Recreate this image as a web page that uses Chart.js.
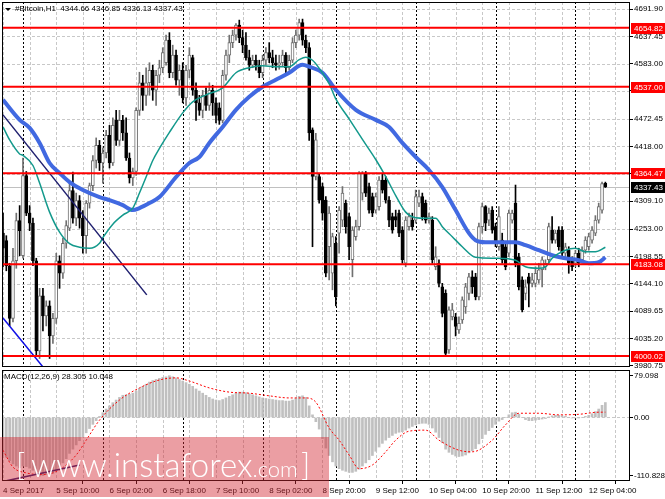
<!DOCTYPE html>
<html>
<head>
<meta charset="utf-8">
<script src="https://cdn.jsdelivr.net/npm/chart.js@4.4.1/dist/chart.umd.min.js"></script>
<style>
  html, body { margin: 0; padding: 0; background: #fff; }
  #wrap { position: relative; width: 665px; height: 499px; overflow: hidden; background: #fff; }
  canvas { position: absolute; left: 0; }
  #wm { position: absolute; left: 0; top: 437px; width: 329px; height: 60px; background: rgba(210, 40, 50, 0.45); pointer-events: none; }
  .wmt { position: absolute; color: #fff; font-family: Lato, "Open Sans", sans-serif; font-weight: 300; line-height: 1; white-space: nowrap; pointer-events: none; }
</style>
</head>
<body>
<div id="wrap">
  <canvas id="main" width="665" height="372" style="top:0"></canvas>
  <canvas id="macd" width="665" height="133" style="top:366px"></canvas>
  <div id="wm"></div>
  <div class="wmt" style="left:16px;top:449px;font-size:31px">[</div>
  <div class="wmt" style="left:31px;top:448px;display:flex;align-items:baseline"><span style="font-size:33px">www.instaforex</span><span style="font-size:22px">.com</span></div>
  <div class="wmt" style="left:301px;top:449px;font-size:31px">]</div>
</div>
<script>
// #Bitcoin H1, 4 Sep 2017 18:00 .. 12 Sep 2017 09:00 (bar index 0..181)
const opens = [
  4245,4230,4180,4075,4190,4270,4200,4360,4285,4265,
  4190,4010,4120,4080,4100,4040,4075,4190,4165,4225,
  4255,4330,4275,4310,4275,4240,4305,4340,4390,4420,
  4385,4405,4440,4385,4470,4430,4470,4445,4395,4355,
  4368,4490,4545,4520,4545,4570,4530,4560,4575,4585,
  4630,4565,4600,4550,4570,4515,4570,4595,4530,4505,
  4490,4520,4500,4530,4505,4495,4470,4560,4600,4625,
  4640,4660,4635,4620,4595,4580,4590,4580,4565,4590,
  4605,4595,4585,4580,4585,4600,4575,4590,4625,4640,
  4665,4630,4615,4451,4358,4358,4338,4311,4218,4165,
  4225,4245,4271,4305,4278,4192,4238,4258,4325,4364,
  4338,4318,4291,4298,4351,4351,4311,4278,4278,4285,
  4251,4185,4258,4271,4271,4305,4318,4305,4271,4271,
  4178,4185,4138,4125,4012,4078,4078,4052,4072,4098,
  4125,4158,4158,4118,4258,4298,4271,4291,4258,4218,
  4231,4218,4205,4271,4305,4198,4152,4125,4158,4145,
  4145,4152,4172,4178,4192,4251,4231,4251,4251,4205,
  4211,4192,4185,4205,4192,4211,4218,4231,4245,4271,
  4291,4344.66
];
const highs = [
  4285,4240,4185,4215,4285,4300,4395,4368,4300,4275,
  4195,4135,4135,4110,4110,4085,4205,4200,4235,4270,
  4345,4367,4325,4320,4290,4310,4345,4400,4435,4430,
  4415,4450,4460,4475,4490,4490,4480,4475,4405,4375,
  4495,4566,4560,4575,4585,4580,4570,4590,4615,4640,
  4645,4620,4610,4580,4585,4580,4615,4600,4545,4520,
  4530,4535,4545,4540,4515,4505,4570,4610,4640,4650,
  4663,4670,4650,4645,4610,4600,4600,4590,4600,4615,
  4625,4610,4600,4600,4610,4605,4600,4635,4650,4672,
  4672,4640,4625,4455,4444,4364,4345,4318,4298,4245,
  4238,4298,4338,4311,4285,4258,4271,4368,4368,4368,
  4345,4325,4325,4358,4364,4358,4318,4285,4291,4291,
  4258,4278,4285,4285,4331,4331,4325,4311,4285,4278,
  4218,4192,4145,4132,4098,4105,4085,4078,4118,4145,
  4165,4170,4165,4265,4305,4300,4295,4298,4265,4298,
  4245,4225,4291,4291,4341,4205,4158,4152,4165,4165,
  4178,4185,4198,4192,4265,4278,4251,4258,4258,4225,
  4218,4198,4211,4215,4218,4238,4245,4258,4280,4305,
  4347,4346.85
];
const lows = [
  4178,4170,4060,4068,4175,4200,4195,4280,4250,4180,
  4000,3995,4050,4060,3995,4025,4065,4135,4155,4215,
  4250,4265,4260,4255,4205,4205,4295,4330,4375,4370,
  4345,4395,4375,4380,4420,4420,4430,4390,4345,4340,
  4360,4480,4490,4500,4520,4510,4500,4545,4565,4580,
  4555,4555,4540,4520,4505,4500,4555,4520,4470,4480,
  4475,4490,4490,4480,4465,4462,4465,4550,4585,4615,
  4630,4625,4605,4590,4570,4575,4570,4555,4555,4580,
  4585,4575,4570,4572,4578,4565,4570,4585,4615,4630,
  4620,4605,4430,4218,4351,4305,4271,4158,4152,4132,
  4100,4205,4258,4245,4192,4158,4231,4251,4311,4318,
  4285,4278,4285,4291,4325,4305,4258,4245,4258,4238,
  4185,4178,4251,4251,4265,4298,4271,4265,4265,4185,
  4172,4138,4078,4000,4005,4072,4040,4045,4065,4085,
  4112,4125,4112,4112,4245,4250,4260,4245,4218,4211,
  4185,4172,4198,4265,4178,4132,4088,4112,4098,4138,
  4138,4145,4138,4172,4185,4225,4225,4211,4198,4198,
  4165,4170,4178,4178,4185,4205,4211,4225,4240,4265,
  4285,4336.13
];
const closes = [
  4215,4180,4075,4190,4270,4250,4360,4285,4265,4190,
  4010,4120,4080,4100,4040,4075,4190,4165,4225,4260,
  4330,4275,4310,4275,4240,4305,4340,4390,4420,4385,
  4405,4440,4385,4460,4430,4470,4445,4395,4355,4368,
  4490,4545,4520,4545,4570,4530,4560,4575,4605,4630,
  4565,4600,4550,4570,4515,4570,4600,4530,4505,4490,
  4520,4500,4530,4505,4480,4470,4560,4600,4625,4640,
  4660,4635,4620,4595,4580,4590,4580,4565,4590,4605,
  4595,4585,4580,4585,4600,4575,4590,4625,4640,4665,
  4630,4615,4445,4358,4431,4311,4285,4165,4285,4238,
  4118,4291,4325,4258,4218,4251,4258,4364,4364,4325,
  4291,4285,4318,4351,4331,4311,4271,4251,4271,4245,
  4192,4271,4278,4258,4318,4318,4278,4271,4278,4192,
  4198,4145,4085,4005,4092,4092,4059,4065,4112,4138,
  4158,4138,4118,4258,4298,4265,4285,4251,4225,4278,
  4192,4178,4285,4285,4185,4138,4092,4138,4145,4152,
  4165,4172,4192,4185,4258,4231,4245,4218,4205,4218,
  4185,4178,4205,4185,4211,4231,4238,4251,4271,4298,
  4344,4337.43
];

// moving averages, read at sample bars
const blueMaBars = [0,5,8,11,14,17,20,24,29,32,36,39,41,44,47,52,56,59,62,66,70,74,78,82,86,90,92,96,100,106,112,116,120,124,128,132,136,140,142,145,154,157,161,165,169,173,176,179,181];
const blueMaVals = [4511,4471,4455,4425,4385,4365,4347,4331,4317,4311,4301,4291,4295,4305,4317,4357,4385,4397,4425,4457,4491,4517,4537,4551,4565,4581,4577,4565,4531,4491,4471,4457,4425,4397,4371,4337,4291,4245,4231,4227,4227,4221,4211,4201,4195,4191,4185,4187,4197];
const tealMaBars = [0,2,5,6,9,11,14,17,20,23,26,29,30,33,36,39,41,43,45,47,50,54,57,61,66,70,74,78,82,86,89,91,93,95,98,100,104,108,112,115,118,121,124,127,130,132,135,138,142,148,154,157,161,163,165,169,172,175,178,181];
const tealMaVals = [4457,4431,4403,4400,4380,4345,4287,4247,4224,4217,4215,4225,4236,4263,4281,4295,4325,4357,4390,4414,4446,4485,4507,4521,4535,4565,4575,4579,4577,4577,4591,4596,4590,4574,4543,4513,4473,4432,4392,4358,4320,4287,4276,4275,4275,4258,4238,4218,4197,4195,4191,4178,4175,4178,4195,4211,4215,4208,4208,4217];

// trend lines
const trendNavyBars = [0, 43.2];
const trendNavyVals = [4481, 4122];
const trendBlueBars = [0, 14];
const trendBlueVals = [4076, 3962];

// horizontal levels
const levels = [4654.82, 4537.00, 4364.47, 4183.08, 4000.02];

// MACD(12,26,9)
const macdHist = [
  -70,-75,-82,-88,-92,-95,-92,-93,-96,-100,
  -106,-110.828,-110,-108,-109,-106,-100,-94,-86,-78,
  -68,-60,-52,-44,-37,-29,-21,-13,-6,2,
  9,16,22,28,33,38,42,43,44,46,
  50,55,59,63,67,70,72,74,76,77,
  79.098,77,75,72,69,66,63,59,54,50,
  46,42,38,35,33,32,34,37,40,43,
  46,48,48,47,45,43,41,39,37,36,
  35,34,33,32,32,31,31,33,36,40,
  41,38,22,5,-8,-22,-40,-58,-72,-84,
  -92,-97,-100,-102,-104,-104,-102,-98,-92,-86,
  -80,-72,-64,-56,-49,-43,-38,-34,-30,-28,
  -27,-24,-20,-17,-14,-12,-11,-11,-13,-20,
  -28,-38,-48,-60,-66,-70,-73,-74,-73,-71,
  -67,-63,-59,-50,-40,-32,-25,-19,-13,-7,
  -4,0,5,9,10,6,0,-4,-6,-6,
  -5,-4,-3,-2,1,3,4,4,3,2,
  0,-1,-1,-1,0,2,4,7,11,16,
  23,28.305
];
const signalBars = [0,3,7,12,17,22,25,29,35,41,47,52,56,62,68,74,80,86,91,94,98,101,104,107,111,115,118,122,127,131,137,141,147,151,155,161,167,173,179,181];
const signalVals = [-62,-94,-105,-108,-99,-71,-43,-5,33,56,71,75,69,56,48,46,41,37,37,29,-20,-43,-71,-97,-90,-65,-43,-26,-24,-43,-62,-65,-43,-14,8,8,5,6,10,10.048];
const macdTrendBars = [1, 23];
const macdTrendVals = [-120, -90];

// axes
const priceTicks = [4691.90,4637.45,4583.00,4528.90,4472.45,4418.00,4363.55,4309.10,4253.00,4198.55,4144.10,4089.65,4035.20,3980.75];
const macdTicks = [79.098, 0, -110.828];
const macdTickLabels = ['79.098', '0.00', '-110.828'];
const xTickBars = [0,16,32,48,64,80,96,112,128,144,160,176];
const xTickLabels = ['4 Sep 2017','5 Sep 10:00','6 Sep 02:00','6 Sep 18:00','7 Sep 10:00','8 Sep 02:00','8 Sep 20:00','9 Sep 12:00','10 Sep 04:00','10 Sep 20:00','11 Sep 12:00','12 Sep 04:00'];
const daySeparatorBars = [6,30,54,78,100,124,148,172];

const X_MIN = -0.3, X_MAX = 188.4;
const FONT = '"Liberation Sans", Arial, sans-serif';
const last = opens.length - 1;

Chart.defaults.font.family = FONT;
Chart.defaults.font.size = 8;
Chart.defaults.color = '#000';

const pts = (xs, ys) => xs.map((x, i) => ({ x, y: ys[i] }));
const isUp = i => closes[i] >= opens[i];

function line(ctx, x1, y1, x2, y2) {
  ctx.beginPath(); ctx.moveTo(x1, y1); ctx.lineTo(x2, y2); ctx.stroke();
}

// MT4 style grid, separators and frame
function panelPlugin(cfg) {
  return {
    id: 'panel',
    beforeDatasetsDraw(chart) {
      const { ctx, chartArea: a, scales: { x, y } } = chart;
      ctx.save();
      ctx.beginPath(); ctx.rect(a.left, a.top, a.width, a.height); ctx.clip();
      ctx.lineWidth = 1;
      ctx.strokeStyle = '#c8c8c8';
      ctx.setLineDash([3, 2]);
      cfg.hGrid.forEach(v => {
        const py = Math.round(y.getPixelForValue(v)) + 0.5;
        line(ctx, a.left, py, a.right, py);
      });
      for (let b = 0; b <= x.max; b += 8) {
        const px = Math.round(x.getPixelForValue(b)) + 0.5;
        line(ctx, px, a.top, px, a.bottom);
      }
      ctx.strokeStyle = '#000';
      ctx.setLineDash([2, 2]);
      daySeparatorBars.forEach(b => {
        const px = Math.round(x.getPixelForValue(b)) + 0.5;
        line(ctx, px, a.top, px, a.bottom);
      });
      if (cfg.bid !== undefined) {
        ctx.setLineDash([]);
        ctx.strokeStyle = '#c0c0c0';
        const py = Math.round(y.getPixelForValue(cfg.bid)) + 0.5;
        line(ctx, a.left, py, a.right, py);
      }
      ctx.restore();
    },
    afterDraw(chart) {
      const { ctx, chartArea: a } = chart;
      ctx.save();
      ctx.strokeStyle = '#000';
      ctx.lineWidth = 1;
      ctx.strokeRect(Math.round(a.left) + 0.5, Math.round(a.top) + 0.5, Math.round(a.width) - 1, Math.round(a.height) - 1);
      ctx.font = '8px ' + FONT;
      ctx.textBaseline = 'middle';
      ctx.textAlign = 'left';
      if (cfg.after) cfg.after(chart, ctx, a);
      ctx.restore();
    }
  };
}

function valueBox(ctx, a, py, text, bg) {
  const y0 = Math.round(py);
  ctx.fillStyle = bg;
  ctx.fillRect(a.right + 1, y0 - 5, 34, 11);
  ctx.fillStyle = '#fff';
  ctx.fillText(text, a.right + 4, y0 + 0.5);
}

const fixedY = s => { s.width = 35; s.paddingTop = 0; s.paddingBottom = 0; };

// ---------- price panel ----------
new Chart(document.getElementById('main'), {
  type: 'bar',
  data: {
    datasets: [
      ...levels.map(v => ({
        type: 'line', data: [{ x: X_MIN - 2, y: v }, { x: X_MAX + 2, y: v }],
        borderColor: '#ff0000', borderWidth: 2, pointRadius: 0, order: 0
      })),
      { type: 'line', data: pts(trendNavyBars, trendNavyVals), borderColor: '#1e1e6e', borderWidth: 1.5, pointRadius: 0, order: 1 },
      { type: 'line', data: pts(trendBlueBars, trendBlueVals), borderColor: '#1010e6', borderWidth: 1.5, pointRadius: 0, order: 1 },
      { type: 'line', data: pts(tealMaBars, tealMaVals), borderColor: '#13998c', borderWidth: 1.5, pointRadius: 0, cubicInterpolationMode: 'monotone', order: 2 },
      { type: 'line', data: pts(blueMaBars, blueMaVals), borderColor: '#4169e1', borderWidth: 4, pointRadius: 0, cubicInterpolationMode: 'monotone', order: 3 },
      {
        type: 'bar', data: opens.map((o, i) => ({ x: i, y: [o, closes[i]] })),
        barThickness: 3, grouped: false, borderSkipped: false, borderWidth: 1,
        backgroundColor: c => isUp(c.dataIndex) ? '#ffffff' : '#000000',
        borderColor: c => isUp(c.dataIndex) ? '#707070' : '#000000',
        order: 5
      },
      {
        type: 'bar', data: lows.map((l, i) => ({ x: i, y: [l, highs[i]] })),
        barThickness: 1, grouped: false, borderWidth: 0,
        backgroundColor: c => isUp(c.dataIndex) ? '#707070' : '#000000',
        order: 6
      }
    ]
  },
  options: {
    responsive: false, animation: false,
    layout: { padding: { left: 2, top: 2, right: 0, bottom: 5 } },
    plugins: { legend: { display: false }, tooltip: { enabled: false } },
    scales: {
      x: { type: 'linear', min: X_MIN, max: X_MAX, offset: false, display: false },
      y: {
        position: 'right', min: 3978.1, max: 4706.1,
        afterBuildTicks: s => { s.ticks = priceTicks.map(v => ({ value: v })); },
        afterFit: fixedY,
        ticks: { callback: (v, i) => priceTicks[i].toFixed(2), padding: 1, color: '#000' },
        grid: { drawOnChartArea: false, tickLength: 3, tickColor: '#000' },
        border: { display: false }
      }
    }
  },
  plugins: [panelPlugin({
    hGrid: priceTicks,
    bid: closes[last],
    after(chart, ctx, a) {
      const y = chart.scales.y;
      levels.forEach(v => valueBox(ctx, a, y.getPixelForValue(v), v.toFixed(2), '#ff0000'));
      valueBox(ctx, a, y.getPixelForValue(closes[last]), closes[last].toFixed(2), '#000000');
      // header
      ctx.fillStyle = '#000';
      ctx.beginPath(); ctx.moveTo(5, 8); ctx.lineTo(11, 8); ctx.lineTo(8, 11); ctx.closePath(); ctx.fill();
      ctx.fillText('#Bitcoin,H1  ' + [opens[last], highs[last], lows[last], closes[last]].map(v => v.toFixed(2)).join(' '), 15, 9);
    }
  })]
});

// ---------- MACD panel ----------
new Chart(document.getElementById('macd'), {
  type: 'bar',
  data: {
    datasets: [
      { type: 'line', data: pts(macdTrendBars, macdTrendVals), borderColor: '#2a1a6e', borderWidth: 1.5, pointRadius: 0, order: 0 },
      { type: 'line', data: pts(signalBars, signalVals), borderColor: '#ff0000', borderWidth: 1, borderDash: [2, 2], pointRadius: 0, cubicInterpolationMode: 'monotone', order: 1 },
      { type: 'bar', data: macdHist.map((v, i) => ({ x: i, y: v })), barThickness: 2, grouped: false, backgroundColor: '#c0c0c0', order: 3 }
    ]
  },
  options: {
    responsive: false, animation: false,
    layout: { padding: { left: 2, top: 4, right: 0, bottom: 0 } },
    plugins: { legend: { display: false }, tooltip: { enabled: false } },
    scales: {
      x: {
        type: 'linear', min: X_MIN, max: X_MAX, offset: false,
        afterBuildTicks: s => { s.ticks = xTickBars.map(v => ({ value: v })); },
        afterFit: s => { s.height = 18; s.paddingLeft = 0; s.paddingRight = 0; },
        ticks: { callback: (v, i) => xTickLabels[i], autoSkip: false, maxRotation: 0, minRotation: 0, align: 'start', padding: 2, color: '#000' },
        grid: { drawOnChartArea: false, tickLength: 3, tickColor: '#000' },
        border: { display: false }
      },
      y: {
        position: 'right', min: -120.3, max: 89.9,
        afterBuildTicks: s => { s.ticks = macdTicks.map(v => ({ value: v })); },
        afterFit: fixedY,
        ticks: { callback: (v, i) => macdTickLabels[i], padding: 1, color: '#000' },
        grid: { drawOnChartArea: false, tickLength: 3, tickColor: '#000' },
        border: { display: false }
      }
    }
  },
  plugins: [panelPlugin({
    hGrid: [0],
    after(chart, ctx, a) {
      ctx.fillStyle = '#000';
      ctx.fillText('MACD(12,26,9) ' + macdHist[last].toFixed(3) + ' ' + signalVals[signalVals.length - 1].toFixed(3), 4, a.top + 7);
    }
  })]
});
</script>
</body>
</html>
